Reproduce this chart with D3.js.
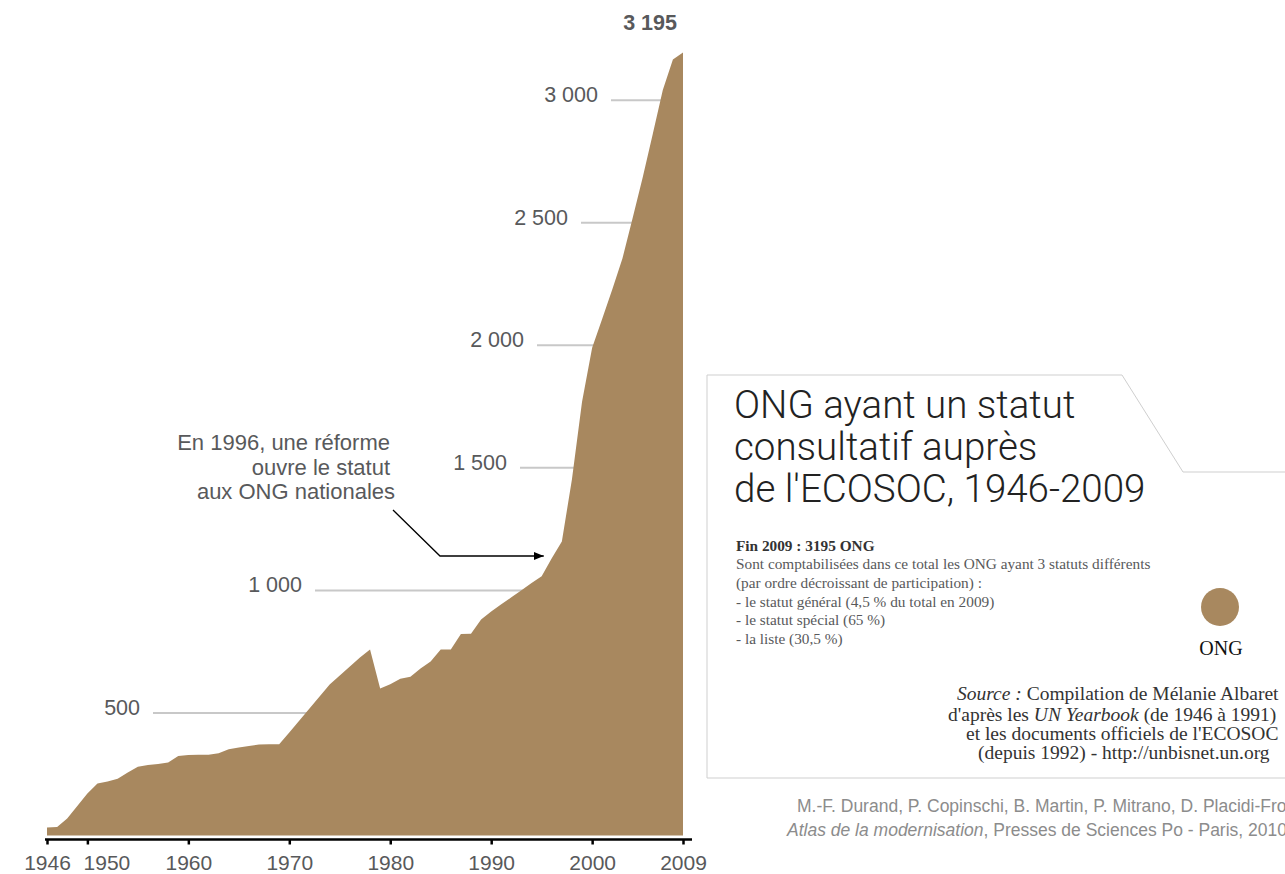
<!DOCTYPE html>
<html>
<head>
<meta charset="utf-8">
<script src="https://cdn.jsdelivr.net/npm/d3@7"></script>
<style>
	body {margin: 0; background: #fff; overflow: hidden;}
	svg {display: block;}
</style>
</head>
<body>
<div id="vis"></div>
<script>
// declare constants
const FRAME_WIDTH = 1285;
const FRAME_HEIGHT = 874;

const AREA_COLOR = "#a8885f";
const TEXT_GREY = "#58595b";
const SANS = "'Liberation Sans', Arial, Helvetica, sans-serif";
const SERIF = "'Liberation Serif', 'Times New Roman', serif";

// data : number of NGOs with consultative status, 1946-2009
const YEARS = d3.range(1946, 2010);
const NGO_COUNT = [
	33, 35, 69, 120, 171, 212, 220, 232, 257, 281,
	288, 292, 298, 324, 328, 329, 329, 336, 352, 359,
	365, 371, 372, 372, 420, 469, 518, 567, 616, 653,
	690, 726, 759, 600, 617, 640, 648, 681, 710, 759,
	759, 822, 823, 881, 914, 943, 972, 1001, 1030, 1058,
	1131, 1200, 1453, 1770, 1990, 2108, 2229, 2354, 2517, 2684,
	2861, 3042, 3166, 3195
];
const YEAR_TICKS = [1946, 1950, 1960, 1970, 1980, 1990, 2000, 2009];
const VALUE_TICKS = [500, 1000, 1500, 2000, 2500, 3000];
const VALUE_LABELS = ["500", "1 000", "1 500", "2 000", "2 500", "3 000"];
const LAST_LABEL = "3 195";

// where each gridline starts (px), set by hand like in the original layout
const GRID_FROM = [153, 315, 520, 537, 581, 611];

const data = YEARS.map((yr, i) => {return {year: yr, value: NGO_COUNT[i]}});

const FRAME = d3.select("#vis")
	.append("svg")
		.attr("width", FRAME_WIDTH)
		.attr("height", FRAME_HEIGHT);

// scales
const X_SCALE = d3.scaleLinear()
					.domain([1946, 2009])
					.range([47, 683]);
const Y_SCALE = d3.scaleLinear()
					.domain([0, 3000])
					.range([835.5, 100.2]);

// gridlines + labels (behind the area)
FRAME.selectAll(".grid")
	.data(VALUE_TICKS)
	.enter()
	.append("line")
		.attr("class", "grid")
		.attr("x1", (d, i) => GRID_FROM[i])
		.attr("x2", X_SCALE(2009))
		.attr("y1", (d) => Y_SCALE(d))
		.attr("y2", (d) => Y_SCALE(d))
		.style("stroke", "#c8c8c8")
		.style("stroke-width", 2);

FRAME.selectAll(".ylab")
	.data(VALUE_TICKS)
	.enter()
	.append("text")
		.attr("class", "ylab")
		.attr("x", (d, i) => GRID_FROM[i] - 13)
		.attr("y", (d) => Y_SCALE(d) + 2)
		.attr("text-anchor", "end")
		.style("font-family", SANS)
		.style("font-size", "21.5px")
		.style("fill", TEXT_GREY)
		.text((d, i) => VALUE_LABELS[i]);

// area
const AREA = d3.area()
	.x((d) => X_SCALE(d.year))
	.y0(Y_SCALE(0))
	.y1((d) => Y_SCALE(d.value));

FRAME.append("path")
	.datum(data)
	.attr("d", AREA)
	.style("fill", AREA_COLOR);

// last value on top
FRAME.append("text")
	.attr("x", X_SCALE(2009) - 6)
	.attr("y", Y_SCALE(NGO_COUNT[NGO_COUNT.length - 1]) - 22)
	.attr("text-anchor", "end")
	.style("font-family", SANS)
	.style("font-size", "21.5px")
	.style("font-weight", "bold")
	.style("fill", TEXT_GREY)
	.text(LAST_LABEL);

// x axis
const xAxis = FRAME.append("g")
	.attr("transform", "translate(0,839.5)")
	.call(d3.axisBottom(X_SCALE)
			.tickValues(YEAR_TICKS)
			.tickFormat(d3.format("d"))
			.tickSize(5)
			.tickPadding(11));
xAxis.select(".domain").remove();
xAxis.selectAll(".tick line")
	.style("stroke", "#000")
	.style("stroke-width", 2.5);
xAxis.selectAll(".tick text")
	.style("font-family", SANS)
	.style("font-size", "21px")
	.style("fill", TEXT_GREY)
	// 1950 label is pushed right so it clears 1946
	.attr("dx", (d) => d == 1950 ? 19 : 0);
xAxis.append("line")
	.attr("x1", X_SCALE(1946) - 2)
	.attr("x2", X_SCALE(2009) + 9)
	.style("stroke", "#000")
	.style("stroke-width", 2.5);

// annotation
const NOTE = FRAME.append("text")
	.attr("text-anchor", "end")
	.style("font-family", SANS)
	.style("font-size", "22px")
	.style("fill", TEXT_GREY);
["En 1996, une réforme", "ouvre le statut", "aux ONG nationales"].forEach((t, i) => {
	NOTE.append("tspan")
		.attr("x", i == 2 ? 395 : 390)
		.attr("y", 450 + i * 24.5)
		.text(t);
});

FRAME.append("defs").append("marker")
	.attr("id", "arrow")
	.attr("viewBox", "0 0 10 8")
	.attr("refX", 10)
	.attr("refY", 4)
	.attr("markerWidth", 10)
	.attr("markerHeight", 8)
	.attr("markerUnits", "userSpaceOnUse")
	.attr("orient", "auto")
	.append("path")
		.attr("d", "M0,0 L10,4 L0,8 Z")
		.style("fill", "#000");

FRAME.append("path")
	.attr("d", "M393,510 L440,556 L" + (X_SCALE(1996) - 8) + ",556")
	.style("fill", "none")
	.style("stroke", "#000")
	.style("stroke-width", 1.3)
	.attr("marker-end", "url(#arrow)");

// info box
FRAME.append("path")
	.attr("d", "M1290,472 L1183,472 L1122,375 L707,375 L707,778 L1290,778")
	.style("fill", "none")
	.style("stroke", "#cfcfcf")
	.style("stroke-width", 1);

const TITLE = FRAME.append("text")
	.style("font-family", "Roboto, " + SANS)
	.style("font-weight", 300)
	.style("font-size", "38.5px")
	.style("fill", "#222");
["ONG ayant un statut", "consultatif auprès", "de l'ECOSOC, 1946-2009"].forEach((t, i) => {
	TITLE.append("tspan")
		.attr("x", 734)
		.attr("y", 418 + i * 42)
		.text(t);
});

const BODY = FRAME.append("text")
	.style("font-family", SERIF)
	.style("font-size", "15.3px")
	.style("fill", TEXT_GREY);
BODY.append("tspan")
	.attr("x", 736).attr("y", 551)
	.style("font-weight", "bold")
	.style("fill", "#333")
	.text("Fin 2009 : 3195 ONG");
["Sont comptabilisées dans ce total les ONG ayant 3 statuts différents",
 "(par ordre décroissant de participation) :",
 "- le statut général (4,5 % du total en 2009)",
 "- le statut spécial (65 %)",
 "- la liste (30,5 %)"].forEach((t, i) => {
	BODY.append("tspan")
		.attr("x", 736)
		.attr("y", 569 + i * 18.8)
		.text(t);
});

// legend
FRAME.append("circle")
	.attr("cx", 1220)
	.attr("cy", 607)
	.attr("r", 19)
	.style("fill", AREA_COLOR);
FRAME.append("text")
	.attr("x", 1221)
	.attr("y", 655)
	.attr("text-anchor", "middle")
	.style("font-family", SERIF)
	.style("font-size", "20px")
	.style("fill", "#111")
	.text("ONG");

// source
const SRC = FRAME.append("g")
	.style("font-family", SERIF)
	.style("font-size", "19.5px")
	.style("fill", "#333");
let s1 = SRC.append("text").attr("x", 957).attr("y", 700);
s1.append("tspan").style("font-style", "italic").text("Source :");
s1.append("tspan").text(" Compilation de Mélanie Albaret");
let s2 = SRC.append("text").attr("x", 948).attr("y", 721);
s2.append("tspan").text("d'après les ");
s2.append("tspan").style("font-style", "italic").text("UN Yearbook");
s2.append("tspan").text(" (de 1946 à 1991)");
SRC.append("text").attr("x", 966).attr("y", 740)
	.text("et les documents officiels de l'ECOSOC");
SRC.append("text").attr("x", 978).attr("y", 759)
	.text("(depuis 1992) - http://unbisnet.un.org");

// credits
const CRED = FRAME.append("g")
	.style("font-family", SANS)
	.style("font-size", "17.5px")
	.style("fill", "#8c8c8c");
CRED.append("text").attr("x", 797).attr("y", 812)
	.text("M.-F. Durand, P. Copinschi, B. Martin, P. Mitrano, D. Placidi-Frot,");
let c2 = CRED.append("text").attr("x", 787).attr("y", 836);
c2.append("tspan").style("font-style", "italic").text("Atlas de la modernisation");
c2.append("tspan").text(", Presses de Sciences Po - Paris, 2010");
</script>
</body>
</html>
